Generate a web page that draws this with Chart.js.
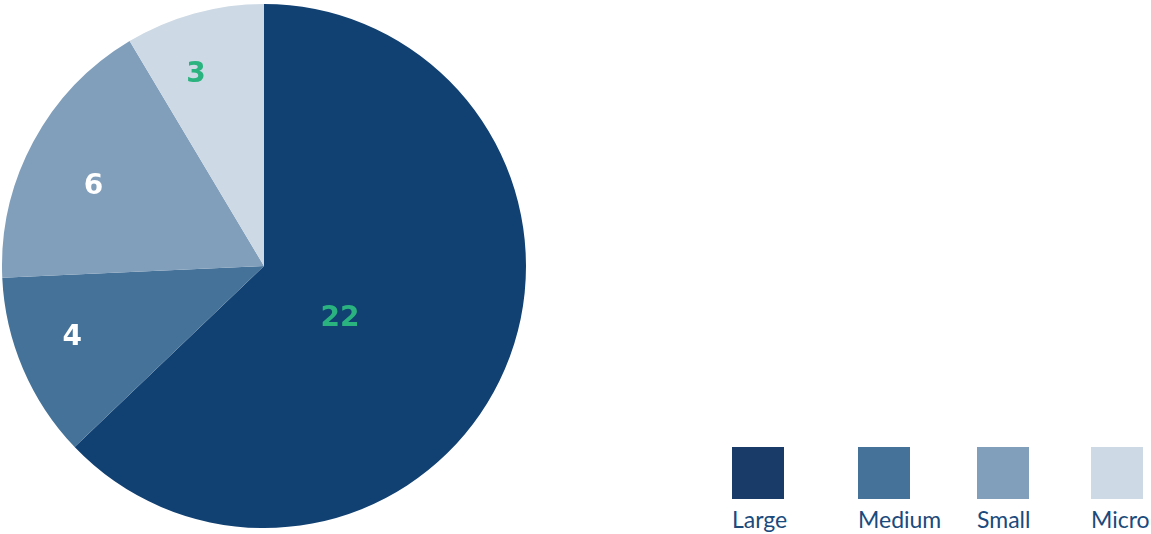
<!DOCTYPE html>
<html lang="en">
<head>
  <meta charset="UTF-8">
  <title>Company size pie</title>
  <script src="https://cdn.jsdelivr.net/npm/chart.js"></script>
  <style>
    body { margin: 0; background: #fff; width: 1151px; height: 534px; position: relative; overflow: hidden; }
    #pieBox { position: absolute; left: 0; top: 0; width: 528px; height: 532px; }
    .legItem { position: absolute; top: 447px; }
    .legItem .sw { width: 52px; height: 52px; }
    .legItem .tx { font-family: Lato, "Open Sans", sans-serif; font-size: 23px; color: #1b4a7c; margin-top: 8px; line-height: 24px; white-space: nowrap; }
  </style>
</head>
<body>
  <div id="pieBox"><canvas id="pieChart"></canvas></div>
  <div id="legend"></div>

  <script>
    // data
    const categories = ['Large', 'Medium', 'Small', 'Micro'];
    const counts = [22, 4, 6, 3];

    // styles
    const sliceColors = ['#114072', '#457299', '#819fbb', '#cdd9e4'];
    const swatchColors = ['#193b67', '#457299', '#819fbb', '#cdd9e4'];
    const labelColors = ['#2bb37f', '#ffffff', '#ffffff', '#2bb37f'];
    const labelRadius = [0.35, 0.78, 0.72, 0.78];   // fraction of the radius
    const labelTurn = [11, 3, -3, -4];              // degrees off the slice middle
    const legendLeft = [732, 858, 977, 1091];

    // labels drawn inside the slices
    const sliceLabels = {
      id: 'sliceLabels',
      afterDatasetsDraw(chart) {
        const ctx = chart.ctx;
        const meta = chart.getDatasetMeta(0);
        ctx.save();
        ctx.font = 'bold 28px "DejaVu Sans", sans-serif';
        ctx.textAlign = 'center';
        ctx.textBaseline = 'middle';
        meta.data.forEach((arc, i) => {
          const p = arc.getProps(['x', 'y', 'startAngle', 'endAngle', 'outerRadius'], true);
          const a = (p.startAngle + p.endAngle) / 2 + labelTurn[i] * Math.PI / 180;
          const r = p.outerRadius * labelRadius[i];
          ctx.fillStyle = labelColors[i];
          ctx.fillText(String(counts[i]), p.x + Math.cos(a) * r, p.y + Math.sin(a) * r + 1);
        });
        ctx.restore();
      }
    };

    new Chart(document.getElementById('pieChart'), {
      type: 'pie',
      data: {
        labels: categories,
        datasets: [{
          data: counts,
          backgroundColor: sliceColors,
          borderWidth: 0
        }]
      },
      options: {
        responsive: true,
        maintainAspectRatio: false,
        animation: false,
        layout: { padding: 2 },
        plugins: {
          legend: { display: false },
          tooltip: { enabled: false }
        }
      },
      plugins: [sliceLabels]
    });

    // legend below on the right
    const legend = document.getElementById('legend');
    categories.forEach((name, i) => {
      const item = document.createElement('div');
      item.className = 'legItem';
      item.style.left = legendLeft[i] + 'px';
      item.innerHTML = '<div class="sw" style="background:' + swatchColors[i] + '"></div><div class="tx">' + name + '</div>';
      legend.appendChild(item);
    });
  </script>
</body>
</html>
